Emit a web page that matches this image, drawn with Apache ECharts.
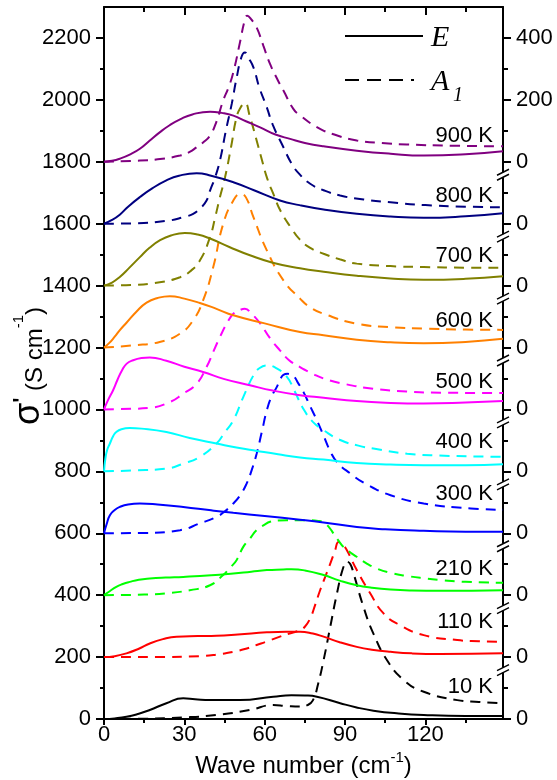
<!DOCTYPE html>
<html><head><meta charset="utf-8">
<script src="https://cdn.jsdelivr.net/npm/echarts@6/dist/echarts.min.js"></script>
<style>html,body{margin:0;padding:0;background:#fff}#c{width:557px;height:780px}</style>
</head><body><div id="c"></div>
<script>
// ---------- data ----------
const temperatures = ['10 K','110 K','210 K','300 K','400 K','500 K','600 K','700 K','800 K','900 K'];
const offsets = [0,200,400,600,800,1000,1200,1400,1600,1800];
const xTicks = [0,30,60,90,120];
const xMinorTicks = [15,45,75,105,135];
const yTicks = [0,200,400,600,800,1000,1200,1400,1600,1800,2000,2200];
const yMinorTicks = [100,300,500,700,900,1100,1300,1500,1700,1900,2100];
const rightTickLabels = ['0','0','0','0','0','0','0','0','0','0','200','400'];

const E_10K = [[0,0],[4,2],[8.4,7],[13,17],[17.1,29],[23.3,51],[29.6,67],[34,64],[39.6,61],[50.8,61],[63.2,72],[70,77],[75,76],[79.5,72],[88.2,51],[94,38],[100.6,27],[110,18],[119.4,13],[135,10],[149,10]];
const A1_10K = [[0,0],[15,1],[29.6,5],[42,13],[54.5,29],[63.2,45],[68,42],[73.2,40],[76,45],[78,60],[80,115],[82,190],[84.5,298],[87,406],[89.4,491],[90.7,508],[92,500],[93.2,470],[96.9,362],[100.6,276],[105.7,190],[111.9,126],[119.4,88],[131.9,61],[140,55],[149,51]];
const E_110K = [[0,0],[4,3],[8.4,12],[13,27],[17.1,44],[22,58],[27.1,66],[35,68],[42,69],[50,73],[60.8,80],[68,82],[73.2,82],[78,76],[82,66],[88,48],[94.4,33],[100,24],[107,17],[115,12],[125.6,10],[149,12]];
const A1_110K = [[0,0],[20,0],[35.8,3],[42,8],[48.3,17],[53,27],[57,39],[61,51],[65.7,66],[70,78],[73.2,87],[75,98],[77,125],[78.8,167],[80.7,216],[82.6,259],[84.5,302],[86.3,345],[87.6,372],[89,365],[90.7,345],[94.4,281],[99.4,206],[104.4,141],[110.6,103],[119.4,71],[131.9,55],[140,51],[149,49]];
const E_210K = [[0,0],[2,12],[4.6,27],[7,36],[9.6,43],[13,50],[17.1,54],[23,57],[29.6,59],[40,64],[48.3,70],[55,76],[60.8,81],[67,83],[70,84],[75,80],[82,65],[88,47],[94.4,32],[100,24],[107,18],[115,15],[125.6,14],[149,16]];
const A1_210K = [[0,0],[15,2],[23.3,6],[32,16],[39.6,32],[44.5,65],[47,88],[49.5,113],[52,156],[54.5,183],[57,210],[60,228],[62,237],[65,241],[68.3,242],[73,242],[77,242],[80,240],[82,235],[84,220],[85.7,199],[87.5,177],[89.4,156],[92,138],[94.4,124],[98,103],[101.9,86],[107,72],[113.2,62],[119,55],[125.6,49],[135,43],[149,40]];
const E_300K = [[0,0],[1,30],[2.2,58],[4,75],[5.9,85],[9,93],[13.4,96],[20,93],[29.6,85],[40,74],[48.3,66],[60,56],[73.2,44],[82,35],[94.4,20],[105,13],[119.4,8],[135,5],[149,5]];
const A1_300K = [[0,0],[15,1],[28.4,10],[35.8,32],[42,53],[45,70],[48.3,96],[51,125],[53.3,161],[55,200],[57,257],[59,330],[60.8,397],[62.5,440],[64.5,472],[66,500],[67,512],[68.5,515],[70.7,508],[72.5,485],[74.5,456],[77,410],[79.5,365],[82,315],[84.5,265],[87,230],[92,193],[97.5,161],[107,123],[119.4,96],[137,80],[149,76]];
const E_400K = [[0,0],[0.5,40],[1.2,70],[2.2,90],[3.5,115],[4.6,127],[6.5,136],[9.6,140],[14,138],[23.3,127],[32,108],[42,90],[50,76],[57,66],[65,55],[73.2,45],[82,38],[94.4,27],[107,22],[119.4,20],[135,20],[149,23]];
const A1_400K = [[0,0],[10.9,3],[23.3,9],[29.6,25],[35.8,47],[42,90],[45,125],[48.3,165],[52,240],[55.8,310],[58,333],[61,342],[64,335],[68.3,305],[71,262],[74.6,200],[78,160],[82,133],[88,102],[95,83],[100.6,74],[113.2,57],[125,51],[149,47]];
const E_500K = [[0,0],[1.5,30],[3.4,62],[5,95],[6.7,126],[8.5,148],[10.9,159],[14,166],[17.1,168],[23.3,157],[30,138],[37,121],[45,98],[54.5,78],[63,61],[73.2,46],[82,38],[94.4,27],[107,21],[119.4,19],[135,22],[149,27]];
const A1_500K = [[0,0],[10,2],[17.1,5],[24.6,24],[29.6,51],[34.6,83],[38.3,137],[41,190],[43.3,234],[46,280],[48.3,309],[50.5,320],[52.6,325],[55,310],[58.3,278],[62,230],[65.7,191],[69,160],[73.2,137],[78,115],[82,100],[90,82],[100.6,67],[113,58],[125.6,54],[149,53]];
const E_600K = [[0,0],[2,15],[4,35],[6,57],[8.4,80],[12,115],[15.9,145],[20,160],[24.6,166],[30,158],[35.8,144],[42,125],[48.3,104],[60,78],[73.2,50],[82,40],[94.4,25],[107,17],[119.4,14],[135,18],[149,28]];
const A1_600K = [[0,0],[10.9,7],[20.8,18],[28.4,45],[33.3,88],[37,152],[40.8,260],[44.5,399],[48.3,475],[51,496],[53,485],[55.8,421],[60.8,314],[67,217],[73.2,158],[77,130],[82,109],[94.4,77],[107,66],[119.4,61],[135,58],[149,57]];
const E_700K = [[0,0],[3,10],[5.9,28],[9.5,58],[13.4,92],[17,122],[20.8,146],[25,162],[30.2,170],[35,165],[39.6,152],[47,124],[54.5,98],[63,74],[73.2,56],[82,45],[94.4,32],[107,23],[119.4,19],[135,22],[149,30]];
const A1_700K = [[0,0],[10,2],[20.8,11],[28.4,27],[32,45],[35.8,81],[39.6,157],[41.5,220],[43.3,286],[45.2,350],[47.5,450],[49.5,544],[51,575],[52.6,590],[54.5,545],[57,469],[59,405],[61,345],[63.2,297],[66,240],[70,185],[73,150],[77,122],[82,103],[88,85],[94.4,71],[107,63],[119.4,60],[135,58],[149,58]];
const E_800K = [[0,0],[3,12],[6,30],[9,55],[13.4,86],[18,114],[23.3,140],[28,155],[34.6,163],[40,155],[48.3,134],[56,108],[65.7,75],[73,60],[82,46],[94.4,32],[107,23],[119.4,19],[135,24],[149,34]];
const A1_800K = [[0,0],[10,1],[23.3,9],[30,22],[33.3,32],[36,50],[38.3,75],[39.6,107],[41.5,150],[43.3,204],[45.5,300],[47.7,387],[49.5,470],[51.4,540],[52.6,553],[54,535],[55.8,505],[58,440],[60.8,376],[63,320],[67,247],[70,195],[73,160],[77,129],[82,108],[88.2,91],[97,78],[107,69],[120,60],[135,55],[149,53]];
const E_900K = [[0,0],[3,3],[5.9,10],[10,25],[13.4,42],[17,68],[20.8,95],[24.5,118],[28.4,137],[33,153],[39.6,162],[44,158],[48.3,149],[53,131],[58.3,111],[64,88],[69.5,74],[75,61],[82,50],[94.4,36],[107,26],[119.4,20],[135,24],[149,34]];
const A1_900K = [[0,0],[13.4,4],[20,8],[28.4,20],[32,32],[34.6,47],[37,62],[39.6,85],[42,130],[44.5,198],[46.5,240],[48.3,289],[50.9,391],[52.5,455],[53.5,472],[55,460],[57,434],[59.5,375],[62,316],[65,262],[67,230],[70.7,171],[73.2,150],[79.5,112],[86,88],[94.4,69],[105,60],[113,56],[130,52],[149,50]];

const E_series = [E_10K,E_110K,E_210K,E_300K,E_400K,E_500K,E_600K,E_700K,E_800K,E_900K];
const A1_series = [A1_10K,A1_110K,A1_210K,A1_300K,A1_400K,A1_500K,A1_600K,A1_700K,A1_800K,A1_900K];

// ---------- style / layout ----------
const colors = ['#000000','#ff0000','#00ff00','#0000ff','#00ffff','#ff00ff','#ff8000','#808000','#000080','#800080'];
const labelLift = [32,35,26,39,29,27,27,30,28,26];
const FONT = '"Liberation Sans", Arial, sans-serif';
const xMin = 0, xMax = 149, yMin = 0, yMax = 2300;

const series = [];
temperatures.forEach((t, i) => {
  series.push({
    name: t + ' E', type: 'line', symbol: 'none', smooth: 0.5,
    data: E_series[i].map(p => [p[0], p[1] + offsets[i]]),
    lineStyle: { color: colors[i], width: 2 }, z: 5
  });
  series.push({
    name: t + ' A1', type: 'line', symbol: 'none', smooth: 0.5,
    data: A1_series[i].map(p => [p[0], p[1] + offsets[i]]),
    lineStyle: { color: colors[i], width: 2, type: [10, 7] }, z: 4
  });
});

const axLine = { show: true, onZero: false, lineStyle: { color: '#000', width: 2 } };
const noLine = { show: false, onZero: false };
const lab = { color: '#000', fontSize: 22, fontFamily: FONT, formatter: v => String(v) };
const tickStyle = { color: '#000', width: 2 };
const option = {
  animation: false,
  backgroundColor: '#fff',
  grid: { left: 104, right: 54, top: 7, bottom: 61, outerBoundsMode: 'none', containLabel: false },
  xAxis: [
    { type: 'value', min: xMin, max: xMax, position: 'bottom', axisLine: axLine,
      axisTick: { show: true, customValues: xTicks, length: 6, lineStyle: tickStyle },
      axisLabel: Object.assign({}, lab, { customValues: xTicks, margin: 5 }), splitLine: { show: false } },
    { type: 'value', min: xMin, max: xMax, position: 'bottom', axisLine: noLine,
      axisTick: { show: true, customValues: xMinorTicks, length: 4, lineStyle: tickStyle },
      axisLabel: { show: false }, splitLine: { show: false } },
    { type: 'value', min: xMin, max: xMax, position: 'top', axisLine: axLine,
      axisTick: { show: true, inside: true, customValues: xTicks, length: 8, lineStyle: tickStyle },
      axisLabel: { show: false }, splitLine: { show: false } },
    { type: 'value', min: xMin, max: xMax, position: 'top', axisLine: noLine,
      axisTick: { show: true, inside: true, customValues: xMinorTicks, length: 5, lineStyle: tickStyle },
      axisLabel: { show: false }, splitLine: { show: false } }
  ],
  yAxis: [
    { type: 'value', min: yMin, max: yMax, position: 'left', axisLine: axLine,
      axisTick: { show: true, customValues: yTicks, length: 8, lineStyle: tickStyle },
      axisLabel: Object.assign({}, lab, { customValues: yTicks, margin: 13 }), splitLine: { show: false } },
    { type: 'value', min: yMin, max: yMax, position: 'left', axisLine: noLine,
      axisTick: { show: true, customValues: yMinorTicks, length: 4, lineStyle: tickStyle },
      axisLabel: { show: false }, splitLine: { show: false } },
    { type: 'value', min: yMin, max: yMax, position: 'right', axisLine: axLine,
      axisTick: { show: true, customValues: yTicks, length: 8, lineStyle: tickStyle },
      axisLabel: Object.assign({}, lab, { customValues: yTicks, margin: 13,
        formatter: v => rightTickLabels[yTicks.indexOf(v)] }), splitLine: { show: false } },
    { type: 'value', min: yMin, max: yMax, position: 'right', axisLine: noLine,
      axisTick: { show: true, customValues: yMinorTicks, length: 5, lineStyle: tickStyle },
      axisLabel: { show: false }, splitLine: { show: false } }
  ],
  series: series
};

const chart = echarts.init(document.getElementById('c'), null, { renderer: 'canvas' });
chart.setOption(option);

// ---------- annotations ----------
const xR = chart.convertToPixel({ xAxisIndex: 0 }, xMax);
const xL = chart.convertToPixel({ xAxisIndex: 0 }, xMin);
const g = [];
offsets.forEach((off, i) => {
  const py = chart.convertToPixel({ yAxisIndex: 0 }, off);
  g.push({ type: 'text', x: xR - 10, y: py - labelLift[i], z: 100,
    style: { text: temperatures[i], fill: '#000', fontSize: 22, fontFamily: FONT, align: 'right', verticalAlign: 'middle' } });
  if (off > 0) {
    const yb = py + 13;
    g.push({ type: 'rect', z: 100, shape: { x: xR - 2, y: yb - 2.5, width: 4, height: 5 }, style: { fill: '#fff' } });
    g.push({ type: 'line', z: 101, shape: { x1: xR - 6, y1: yb + 5.5, x2: xR + 6, y2: yb - 0.5 }, style: { stroke: '#000', lineWidth: 1.5 } });
    g.push({ type: 'line', z: 101, shape: { x1: xR - 6, y1: yb + 0.5, x2: xR + 6, y2: yb - 5.5 }, style: { stroke: '#000', lineWidth: 1.5 } });
  }
});
// legend
g.push({ type: 'line', z: 100, shape: { x1: 345, y1: 36, x2: 423, y2: 36 }, style: { stroke: '#000', lineWidth: 2 } });
g.push({ type: 'line', z: 100, shape: { x1: 345, y1: 80, x2: 414, y2: 80 }, style: { stroke: '#000', lineWidth: 2, lineDash: [14, 8] } });
g.push({ type: 'text', z: 100, x: 431, y: 38, style: { text: 'E', fill: '#000', fontSize: 30, fontStyle: 'italic', fontFamily: '"Liberation Serif", serif', align: 'left', verticalAlign: 'middle' } });
g.push({ type: 'text', z: 100, x: 431, y: 82, style: { text: 'A', fill: '#000', fontSize: 30, fontStyle: 'italic', fontFamily: '"Liberation Serif", serif', align: 'left', verticalAlign: 'middle' } });
g.push({ type: 'text', z: 100, x: 453, y: 96, style: { text: '1', fill: '#000', fontSize: 20, fontStyle: 'italic', fontFamily: '"Liberation Serif", serif', align: 'left', verticalAlign: 'middle' } });
// axis titles
g.push({ type: 'text', z: 100, x: (xL + xR) / 2, y: 764,
  style: { text: '{n|Wave number (cm}{s|-1}{n|)}', align: 'center', verticalAlign: 'middle', fill: '#000',
    rich: { n: { fontSize: 24, fontFamily: FONT, color: '#000', lineHeight: 28, verticalAlign: 'bottom' },
            s: { fontSize: 15, fontFamily: FONT, color: '#000', lineHeight: 28, verticalAlign: 'top' } } } });
g.push({ type: 'text', z: 100, x: 29, y: 366, rotation: Math.PI / 2,
  style: { text: "{g|σ}{p|'}{n| (S cm}{s|-1}{n|)}", align: 'center', verticalAlign: 'middle', fill: '#000',
    rich: { g: { fontSize: 36, fontFamily: FONT, color: '#000', lineHeight: 36, verticalAlign: 'bottom' },
            p: { fontSize: 22, fontWeight: 'bold', fontFamily: FONT, color: '#000', lineHeight: 36, verticalAlign: 'top' },
            n: { fontSize: 24, fontFamily: FONT, color: '#000', lineHeight: 32, verticalAlign: 'bottom' },
            s: { fontSize: 15, fontFamily: FONT, color: '#000', lineHeight: 36, verticalAlign: 'top' } } } });
chart.setOption({ graphic: g });
</script></body></html>
